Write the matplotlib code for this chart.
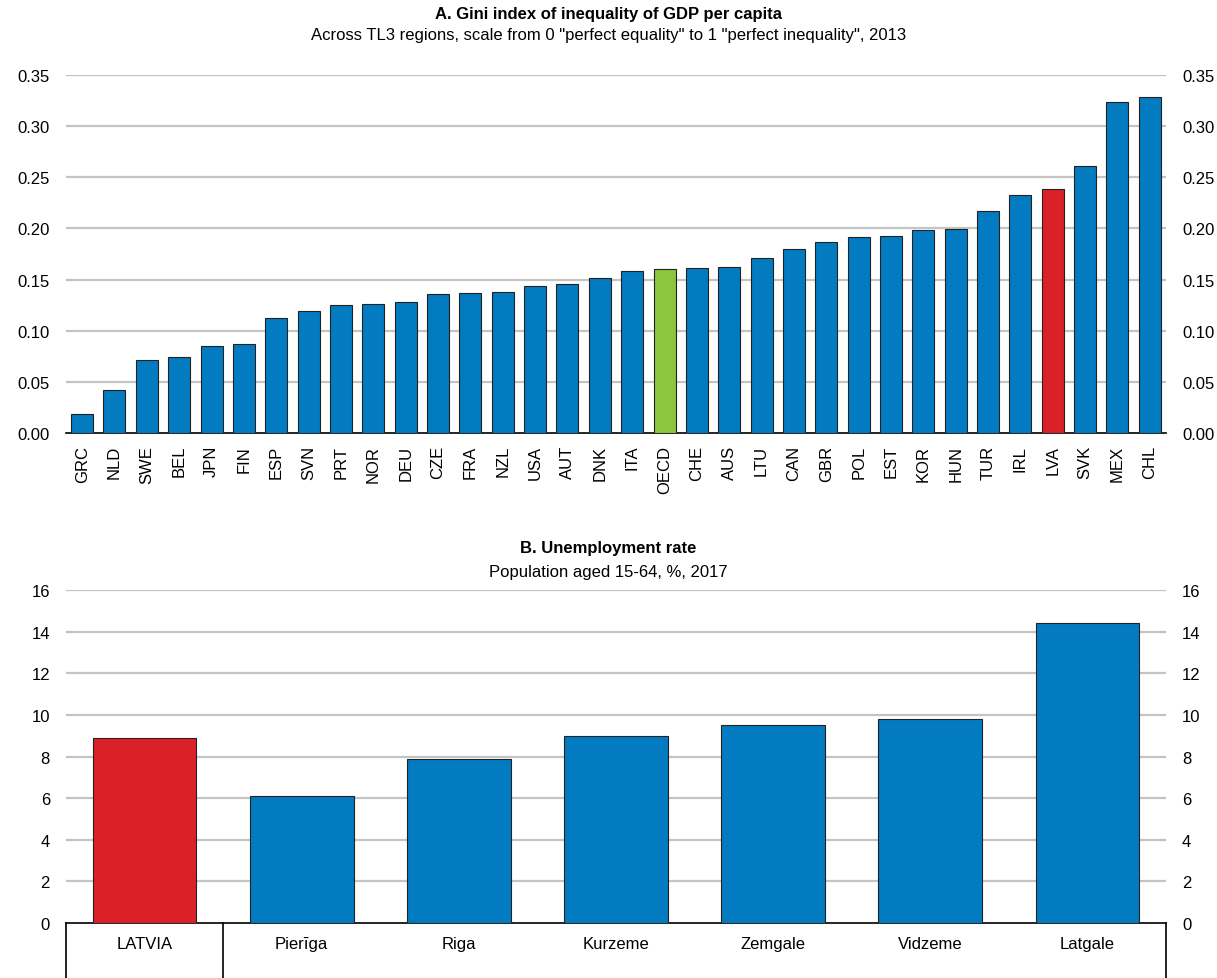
import matplotlib
matplotlib.use("Agg")
import matplotlib.pyplot as plt
import matplotlib.transforms as mtransforms

plt.rcParams['font.family'] = ['Liberation Sans', 'DejaVu Sans']

# Panel A: Gini index of GDP per capita across TL3 regions, 2013
countries = ['GRC', 'NLD', 'SWE', 'BEL', 'JPN', 'FIN', 'ESP', 'SVN', 'PRT', 'NOR',
             'DEU', 'CZE', 'FRA', 'NZL', 'USA', 'AUT', 'DNK', 'ITA', 'OECD', 'CHE',
             'AUS', 'LTU', 'CAN', 'GBR', 'POL', 'EST', 'KOR', 'HUN', 'TUR', 'IRL',
             'LVA', 'SVK', 'MEX', 'CHL']
gini = [0.019, 0.042, 0.071, 0.074, 0.085, 0.087, 0.112, 0.119, 0.125, 0.126,
        0.128, 0.136, 0.137, 0.138, 0.144, 0.146, 0.152, 0.158, 0.160, 0.161,
        0.162, 0.171, 0.180, 0.187, 0.192, 0.193, 0.198, 0.199, 0.217, 0.233,
        0.239, 0.261, 0.324, 0.328]

# Panel B: unemployment rate, population aged 15-64, 2017
regions = ['LATVIA', 'Pierīga', 'Riga', 'Kurzeme', 'Zemgale', 'Vidzeme', 'Latgale']
unemp = [8.9, 6.1, 7.9, 9.0, 9.5, 9.8, 14.4]

BLUE = '#037BC1'
RED = '#DA2128'
GREEN = '#8CC63F'
GRID = '#C4C4C4'

def colour_for(name):
    if name in ('LVA', 'LATVIA'):
        return RED
    if name == 'OECD':
        return GREEN
    return BLUE

def style_axis(ax, ticks):
    ax.set_yticks(ticks)
    ax.yaxis.grid(True, color=GRID, linewidth=1.6)
    ax.set_axisbelow(True)
    for s in ('left', 'right', 'top'):
        ax.spines[s].set_visible(False)
    ax.spines['bottom'].set_color('black')
    ax.spines['bottom'].set_linewidth(1.2)
    ax.tick_params(axis='y', left=False, right=False, labelleft=True,
                   labelright=True, labelsize=12, pad=8)
    ax.tick_params(axis='x', bottom=False, labelsize=12)


fig = plt.figure(figsize=(12.17, 9.79), dpi=100)

# ---- Panel A
ax1 = fig.add_axes([0.0542, 0.5567, 0.9039, 0.3657])
xa = range(len(countries))
ax1.bar(xa, gini, width=0.68, color=[colour_for(c) for c in countries],
        edgecolor='#222222', linewidth=0.8, zorder=3)
ax1.set_xlim(-0.5, len(countries) - 0.5)
ax1.set_ylim(0, 0.35)
style_axis(ax1, [0, 0.05, 0.10, 0.15, 0.20, 0.25, 0.30, 0.35])
ax1.set_yticklabels(['%.2f' % v for v in ax1.get_yticks()])
ax1.set_xticks(list(xa))
ax1.set_xticklabels(countries, rotation=90)
ax1.tick_params(axis='x', pad=5)
ax1.yaxis.get_gridlines()[0].set_visible(False)

fig.text(0.5, 0.993, 'A. Gini index of inequality of GDP per capita',
         ha='center', va='top', fontsize=12, fontweight='bold')
fig.text(0.5, 0.971, 'Across TL3 regions, scale from 0 "perfect equality" to 1 "perfect inequality", 2013',
         ha='center', va='top', fontsize=12)

# ---- Panel B
ax2 = fig.add_axes([0.0542, 0.0562, 0.9039, 0.3401])
xb = range(len(regions))
ax2.bar(xb, unemp, width=0.66, color=[colour_for(r) for r in regions],
        edgecolor='#222222', linewidth=0.8, zorder=3)
ax2.set_xlim(-0.5, len(regions) - 0.5)
ax2.set_ylim(0, 16)
style_axis(ax2, list(range(0, 17, 2)))
ax2.set_xticks(list(xb))
ax2.set_xticklabels(regions)
ax2.tick_params(axis='x', pad=6)
ax2.yaxis.get_gridlines()[0].set_visible(False)

# category boxes under the axis
trans = mtransforms.blended_transform_factory(ax2.transData, ax2.transAxes)
for xv in (-0.5, 0.5, len(regions) - 0.5):
    ax2.plot([xv, xv], [0, -0.3], color='black', linewidth=1.2,
             transform=trans, clip_on=False)

fig.text(0.5, 0.447, 'B. Unemployment rate', ha='center', va='top',
         fontsize=12, fontweight='bold')
fig.text(0.5, 0.423, 'Population aged 15-64, %, 2017', ha='center', va='top',
         fontsize=12)

fig.savefig('out.png', dpi=100)
